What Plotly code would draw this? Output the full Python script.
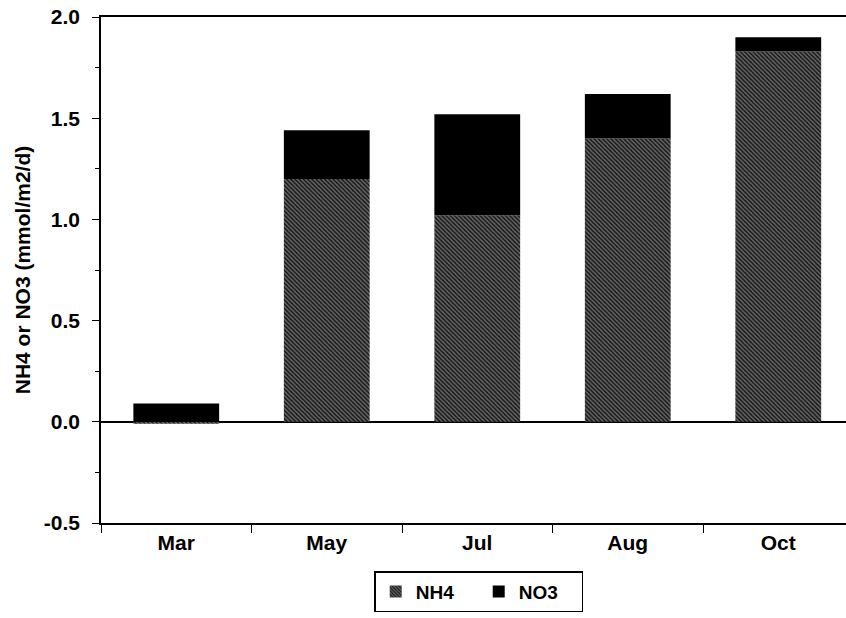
import plotly.graph_objects as go

months = ["Mar", "May", "Jul", "Aug", "Oct"]
nh4 = [-0.01, 1.20, 1.02, 1.40, 1.83]
no3 = [0.09, 0.24, 0.50, 0.22, 0.07]
y_ticks = [-0.5, 0.0, 0.5, 1.0, 1.5, 2.0]
y_tick_labels = ["-0.5", "0.0", "0.5", "1.0", "1.5", "2.0"]

font_fam = "Liberation Sans, Arial, sans-serif"

fig = go.Figure()
fig.add_trace(go.Bar(
    x=months, y=nh4, name="NH4",
    marker=dict(color="#1a1a1a", line=dict(width=0),
                pattern=dict(shape="\\", fgcolor="#bdbdbd", bgcolor="#141414",
                             size=3, solidity=0.5)),
))
fig.add_trace(go.Bar(
    x=months, y=no3, name="NO3",
    marker=dict(color="#000000", line=dict(width=0)),
))

fig.update_layout(
    barmode="relative",
    bargap=0.43,
    width=846, height=618,
    margin=dict(l=101, r=0, t=17, b=95),
    plot_bgcolor="white", paper_bgcolor="white",
    font=dict(family=font_fam, size=21, color="black", weight="bold"),
    legend=dict(orientation="h", x=0.507, xanchor="center", y=-0.095, yanchor="top",
                bordercolor="black", borderwidth=1.5, bgcolor="white",
                font=dict(size=19, weight="bold"), itemwidth=30,
                entrywidth=58, entrywidthmode="pixels",
                traceorder="normal"),
    xaxis=dict(range=[-0.5, 4.45], showline=True, linecolor="black", linewidth=1.5,
               mirror=True, ticks="outside", tickson="boundaries", ticklen=8,
               tickcolor="black", tickwidth=1, showgrid=False,
               tickfont=dict(size=21, weight="bold")),
    yaxis=dict(range=[-0.5, 2.0], tickvals=y_ticks, ticktext=y_tick_labels,
               showline=True, linecolor="black", linewidth=1.5,
               ticks="outside", ticklen=7, tickcolor="black", tickwidth=1,
               ticklabelstandoff=8,
               showgrid=False, zeroline=True, zerolinecolor="black", zerolinewidth=1.5,
               minor=dict(ticks="outside", dtick=0.25, ticklen=4, tickcolor="black"),
               tickfont=dict(size=21, weight="bold"),
               title=dict(text="NH4 or NO3 (mmol/m2/d)", standoff=8,
                          font=dict(size=21, weight="bold"))),
)

fig.write_html("out.html")
